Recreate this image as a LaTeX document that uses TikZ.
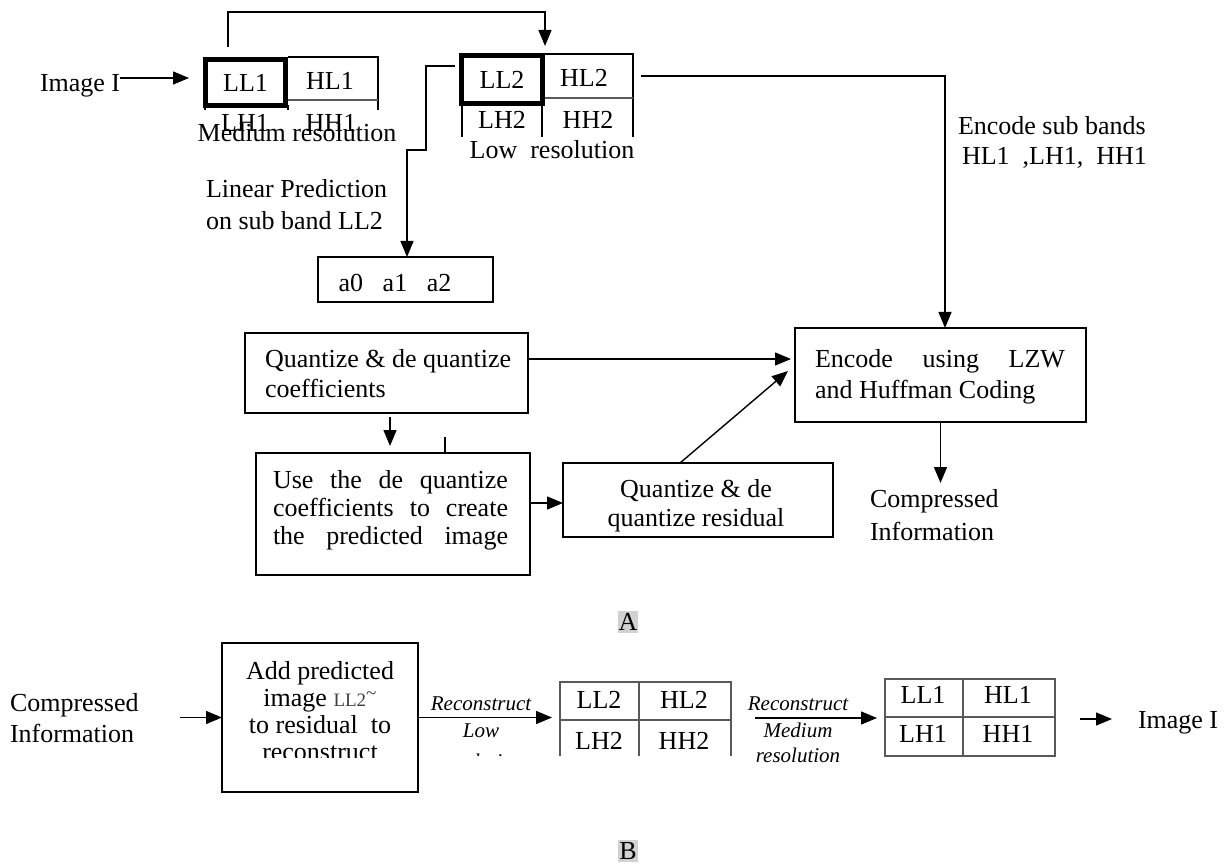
\documentclass[tikz,border=0pt]{standalone}
\usepackage{fontspec}
\setmainfont{Liberation Serif}
\usetikzlibrary{arrows.meta}
\begin{document}
\begin{tikzpicture}[x=1pt,y=-1pt,
  every node/.style={inner sep=0pt, outer sep=0pt},
  txt/.style={font=\fontsize{26}{29}\selectfont},
  lbl/.style={font=\fontsize{21}{25}\selectfont\itshape},
  box/.style={draw, line width=1.3pt},
  thinline/.style={line width=1.1pt},
  gridline/.style={draw=black!65, line width=1.1pt},
  heavy/.style={draw, line width=5pt},
  arr/.style={line width=1.4pt, -{Triangle[length=16pt,width=13pt]}},
  wire/.style={line width=1.4pt},
  tag/.style={font=\fontsize{26}{29}\selectfont, fill=black!18, inner xsep=1pt, inner ysep=2pt},
]
\useasboundingbox (0,0) rectangle (1226,866);

% ================= A : encoder =================
% level-1 sub bands
\node[txt, anchor=base west] (imgA) at (40,92) {Image I};
\node[heavy, minimum width=80pt, minimum height=46pt, txt] (ll1) at (245.5,82.5) {LL1};
\node[txt, anchor=base] (hl1) at (330,90) {HL1};
\draw[thinline] (288,57) -- (378,57) -- (378,110);
\draw[gridline] (288,100) -- (378,100);
\draw[thinline] (205,105) -- (205,110) (288,105) -- (288,110);
\node[txt, anchor=base] (lh1) at (245,132) {LH1};
\node[txt, anchor=base] (hh1) at (331,132) {HH1};
\node[txt, anchor=base] (medres) at (297,142) {Medium resolution};
\coordinate (inA) at (189,78);
\draw[arr] (imgA.east |- inA) -- (inA);

% level-2 sub bands
\node[heavy, minimum width=81pt, minimum height=48pt, txt] (ll2) at (502,79.5) {LL2};
\node[txt, anchor=base] (hl2) at (584,87) {HL2};
\draw[thinline] (545,54) -- (633,54) -- (633,137);
\draw[gridline] (545,98) -- (633,98);
\draw[thinline] (462,104) -- (462,137) (542,104) -- (542,137);
\node[txt, anchor=base] (lh2) at (502,129) {LH2};
\node[txt, anchor=base] (hh2) at (588,129) {HH2};
\node[txt, anchor=base] (lowres) at (552,159) {Low\ \ resolution};

% LL1 -> LL2
\coordinate (brA) at (228,47);
\coordinate (brB) at (545,46);
\draw[arr] (brA) -- (228,12) -| (brB);

% linear prediction on LL2
\node[txt, anchor=base west] (lp1) at (206,198) {Linear Prediction};
\node[txt, anchor=base west] (lp2) at (206,230) {on sub band LL2};
\node[box, minimum width=175pt, minimum height=45pt] (coef) at (405.5,279.5) {};
\node[txt, anchor=base] (coeft) at (395,292) {a0\ \ \ a1\ \ \ a2};
\coordinate (ll2l) at (455,66);
\coordinate (lpbend) at (407,150);
\draw[arr] (ll2l) -- (426,66) -- (426,150) -- (lpbend) -- (lpbend |- coef.north);

% high bands to the encoder
\node[box, minimum width=291pt, minimum height=94pt] (enc) at (940.5,375) {};
\node[txt, anchor=base west] (enct1) at (815,367) {\makebox[250pt][s]{Encode using LZW}};
\node[txt, anchor=base west] (enct2) at (815,399) {and Huffman Coding};
\coordinate (hl2r) at (641,76);
\coordinate (hbend) at (945,76);
\draw[arr] (hl2r) -- (hbend) -- (hbend |- enc.north);
\node[txt, anchor=base west] (sb1) at (958,135) {Encode sub bands};
\node[txt, anchor=base west] (sb2) at (962,165) {HL1\ \ ,LH1,\ \ HH1};

% coefficient quantisation
\node[box, minimum width=283pt, minimum height=80pt] (q1) at (386.5,373) {};
\node[txt, anchor=base west] (q1t1) at (265,368) {Quantize \& de quantize};
\node[txt, anchor=base west] (q1t2) at (265,397) {coefficients};

\node[box, minimum width=274pt, minimum height=122pt] (use) at (393,514) {};
\node[txt, anchor=base west] (uset1) at (273,488) {\makebox[235pt][s]{Use the de quantize}};
\node[txt, anchor=base west] (uset2) at (273,516) {\makebox[235pt][s]{coefficients to create}};
\node[txt, anchor=base west] (uset3) at (273,544) {\makebox[235pt][s]{the predicted image}};

\node[box, minimum width=270pt, minimum height=74pt] (qr) at (698,500) {};
\node[txt, anchor=base] (qrt1) at (696,497) {Quantize \& de};
\node[txt, anchor=base] (qrt2) at (696,526) {quantize residual};

\coordinate (q1out) at ([yshift=14pt]q1.east);
\draw[arr, shorten >=4pt] (q1out) -- (q1out -| enc.west);
\coordinate (qrtop) at (680,463);
\coordinate (encin) at (788,371);
\draw[arr] (qrtop) -- (encin);
\coordinate (q1b) at (390,417);
\draw[arr, shorten >=7pt] (q1b) -- (q1b |- use.north);
\coordinate (tick) at (445,437);
\draw[wire] (tick) -- (tick |- use.north);
\coordinate (useout) at ([yshift=11pt]use.east);
\draw[arr] (useout) -- (useout -| qr.west);

\coordinate (ciA) at (940.5,483);
\draw[arr] (enc.south) -- (ciA);
\node[txt, anchor=base west] (ci1) at (870,507) {Compressed};
\node[txt, anchor=base west] (ci2) at (870,540) {Information};

\node[tag] (tagA) at (628,622) {A};

% ================= B : decoder =================
\node[txt, anchor=base west] (cb1) at (10,711) {Compressed};
\node[txt, anchor=base west] (cb2) at (10,742) {Information};
\node[box, minimum width=196pt, minimum height=149pt] (add) at (320,717.5) {};
\coordinate (cbout) at (180,717.5);
\draw[arr] (cbout) -- (add.west);
\node[txt, anchor=base] (addt1) at (320,679) {Add predicted};
\node[txt, anchor=base] (addt2) at (320,706) {image {\fontsize{19}{20}\selectfont\color{black!75}LL2\raisebox{7pt}{\textasciitilde}}};
\node[txt, anchor=base] (addt3) at (320,733) {to residual\ \ to};
\begin{scope}
  \clip (222,600) rectangle (418,757);
  \node[txt, anchor=base] (addt4) at (320,760) {reconstruct};
\end{scope}

\coordinate (t2in) at (552,717.5);
\draw[arr] (add.east) -- (t2in);
\node[lbl, anchor=base] (rc1) at (481,710) {Reconstruct};
\node[lbl, anchor=base] (rc2) at (481,737) {Low};

\begin{scope}
  \clip (420,600) rectangle (760,755);
  \node[lbl, anchor=base] (rc3) at (481,768) {resolution};
  \draw[gridline] (560,760) -- (560,682) -- (731,682) -- (731,760);
  \draw[gridline] (639,682) -- (639,760) (560,720) -- (731,720);
  \node[txt, anchor=base] (bll2) at (599,708) {LL2};
  \node[txt, anchor=base] (bhl2) at (684,708) {HL2};
  \node[txt, anchor=base] (blh2) at (599,749) {LH2};
  \node[txt, anchor=base] (bhh2) at (684,749) {HH2};
\end{scope}

\coordinate (t2out) at (755,718);
\coordinate (t1in) at (877,718);
\draw[arr] (t2out) -- (t1in);
\node[lbl, anchor=base] (rm1) at (798,710) {Reconstruct};
\node[lbl, anchor=base] (rm2) at (798,737) {Medium};
\node[lbl, anchor=base] (rm3) at (798,762) {resolution};

\draw[gridline] (885,679) rectangle (1055,756);
\draw[gridline] (963,679) -- (963,756) (885,717) -- (1055,717);
\node[txt, anchor=base] (bll1) at (923,703) {LL1};
\node[txt, anchor=base] (bhl1) at (1008,703) {HL1};
\node[txt, anchor=base] (blh1) at (923,742) {LH1};
\node[txt, anchor=base] (bhh1) at (1008,742) {HH1};

\coordinate (t1out) at (1080,719);
\coordinate (imgBin) at (1112,719);
\node[txt, anchor=base west] (imgB) at (1138,728) {Image I};
\draw[arr] (t1out) -- (imgBin);

\node[tag] (tagB) at (628,851) {B};
\end{tikzpicture}
\end{document}
